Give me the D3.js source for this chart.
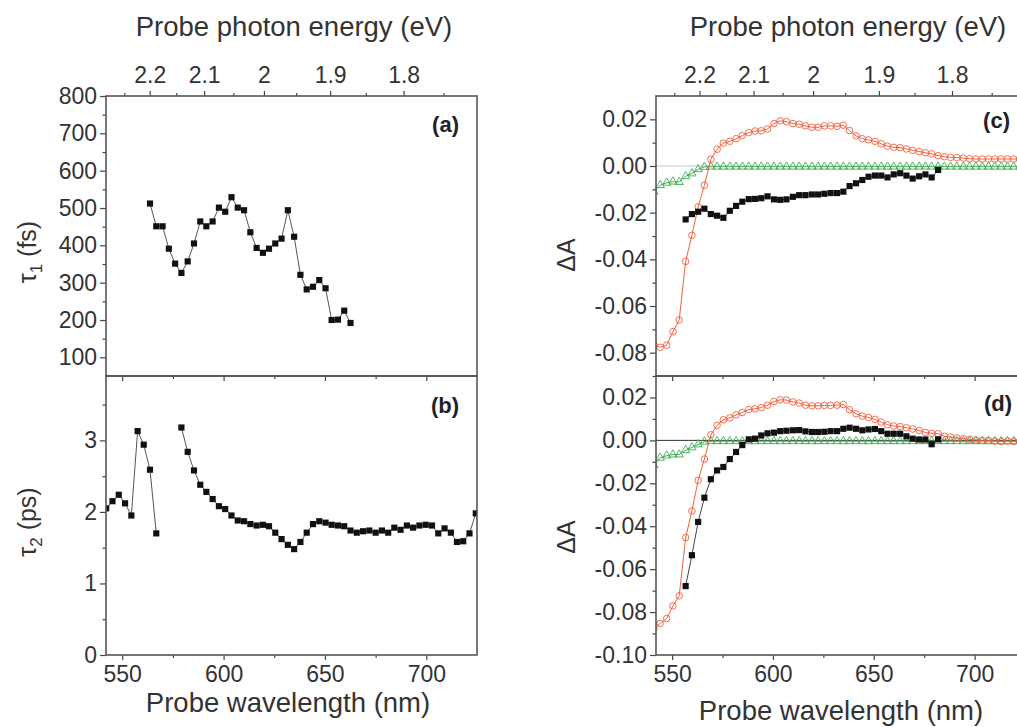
<!DOCTYPE html>
<html>
<head>
<meta charset="utf-8">
<script src="https://cdn.jsdelivr.net/npm/d3@7"></script>
<style>
body { margin: 0; background: #fff; }
svg text { font-family: "Liberation Sans", Arial, sans-serif; }
</style>
</head>
<body>
<div id="chart"></div>
<script>
// ---- data ----
// wavelength sampling of the left panels (nm)
var wlLeft = [542.1, 545.2, 548.3, 551.4, 554.5, 557.6, 560.6, 563.7, 566.8, 569.9,
  573.0, 576.1, 579.2, 582.3, 585.4, 588.5, 591.5, 594.6, 597.7, 600.8,
  603.9, 607.0, 610.1, 613.2, 616.3, 619.4, 622.4, 625.5, 628.6, 631.7,
  634.8, 637.9, 641.0, 644.1, 647.2, 650.3, 653.3, 656.4, 659.5, 662.6,
  665.7, 668.8, 671.9, 675.0, 678.1, 681.2, 684.2, 687.3, 690.4, 693.5,
  696.6, 699.7, 702.8, 705.9, 709.0, 712.1, 715.1, 718.2, 721.3, 724.4];

// tau1 (fs), panel (a)
var tau1 = [null, null, null, null, null, null, null, 512, 451, 451,
  391, 351, 326, 357, 405, 464, 451, 464, 501, 490,
  529, 501, 494, 435, 393, 380, 391, 405, 418, 494,
  423, 321, 282, 289, 307, 285, 200, 201, 225, 192,
  null, null, null, null, null, null, null, null, null, null,
  null, null, null, null, null, null, null, null, null, null];

// tau2 (ps), panel (b)
var tau2 = [2.05, 2.15, 2.24, 2.12, 1.95, 3.13, 2.94, 2.59, 1.70, null,
  null, null, 3.18, 2.84, 2.58, 2.38, 2.28, 2.18, 2.08, 2.04,
  1.95, 1.88, 1.87, 1.83, 1.81, 1.82, 1.80, 1.71, 1.62, 1.54,
  1.48, 1.58, 1.71, 1.83, 1.87, 1.85, 1.82, 1.81, 1.80, 1.74,
  1.71, 1.73, 1.74, 1.71, 1.74, 1.71, 1.78, 1.75, 1.81, 1.78,
  1.81, 1.82, 1.81, 1.70, 1.77, 1.71, 1.58, 1.59, 1.70, 1.98];

// wavelength sampling of the right panels (nm)
var wlRight = [541.0, 544.1, 547.3, 550.4, 553.5, 556.7, 559.8, 562.9, 566.0, 569.2,
  572.3, 575.4, 578.6, 581.7, 584.8, 588.0, 591.1, 594.2, 597.3, 600.5,
  603.6, 606.7, 609.9, 613.0, 616.1, 619.3, 622.4, 625.5, 628.6, 631.8,
  634.9, 638.0, 641.2, 644.3, 647.4, 650.6, 653.7, 656.8, 659.9, 663.1,
  666.2, 669.3, 672.5, 675.6, 678.7, 681.9, 685.0, 688.1, 691.2, 694.4,
  697.5, 700.6, 703.8, 706.9, 710.0, 713.2, 716.3, 719.4, 722.5];

// panel (c): delta A
var cSquares = [null, null, null, null, null, -0.0229, -0.0206, -0.0196, -0.0183, -0.0206,
  -0.0213, -0.0222, -0.0192, -0.0171, -0.0153, -0.0142, -0.0141, -0.0138, -0.0130, -0.0143,
  -0.0145, -0.0143, -0.0132, -0.0125, -0.0125, -0.0122, -0.0122, -0.0119, -0.0116, -0.0116,
  -0.0110, -0.0086, -0.0074, -0.0060, -0.0046, -0.0041, -0.0041, -0.0049, -0.0036, -0.0031,
  -0.0041, -0.0054, -0.0044, -0.0036, -0.0049, -0.0017, null, null, null, null,
  null, null, null, null, null, null, null, null, null];
var cCircles = [-0.0765, -0.0777, -0.0768, -0.0710, -0.0660, -0.0409, -0.0297, -0.0175, -0.0083, 0.0029,
  0.0072, 0.0098, 0.0106, 0.0117, 0.0130, 0.0143, 0.0150, 0.0151, 0.0159, 0.0182,
  0.0194, 0.0190, 0.0182, 0.0179, 0.0172, 0.0166, 0.0166, 0.0172, 0.0172, 0.0170,
  0.0175, 0.0152, 0.0129, 0.0117, 0.0112, 0.0106, 0.0095, 0.0085, 0.0080, 0.0079,
  0.0073, 0.0067, 0.0062, 0.0057, 0.0052, 0.0044, 0.0040, 0.0037, 0.0036, 0.0034,
  0.0031, 0.0030, 0.0030, 0.0030, 0.0030, 0.0030, 0.0030, 0.0030, 0.0030];
var cTriangles = [-0.0110, -0.0082, -0.0072, -0.0067, -0.0069, -0.0044, -0.0032, -0.0014, -0.0004, -0.0003,
  -0.0003, -0.0003, -0.0003, -0.0003, -0.0003, -0.0003, -0.0003, -0.0003, -0.0003, -0.0003,
  -0.0003, -0.0003, -0.0003, -0.0003, -0.0003, -0.0003, -0.0003, -0.0003, -0.0003, -0.0003,
  -0.0003, -0.0003, -0.0003, -0.0003, -0.0003, -0.0003, -0.0003, -0.0003, -0.0003, -0.0003,
  -0.0003, -0.0003, -0.0003, -0.0003, -0.0003, -0.0003, -0.0003, -0.0003, -0.0003, -0.0003,
  -0.0003, -0.0003, -0.0003, -0.0003, -0.0003, -0.0003, -0.0003, -0.0003, -0.0003];

// panel (d): delta A
var dSquares = [null, null, null, null, null, -0.0679, -0.0535, -0.0380, -0.0267, -0.0181,
  -0.0140, -0.0124, -0.0087, -0.0054, -0.0022, 0.0005, 0.0008, 0.0023, 0.0033, 0.0036,
  0.0043, 0.0045, 0.0047, 0.0048, 0.0042, 0.0039, 0.0039, 0.0040, 0.0043, 0.0043,
  0.0054, 0.0059, 0.0054, 0.0047, 0.0051, 0.0053, 0.0043, 0.0031, 0.0031, 0.0031,
  0.0019, 0.0008, 0.0004, 0.0004, -0.0018, 0.0005, null, null, null, null,
  null, null, null, null, null, null, null, null, null];
var dCircles = [-0.0876, -0.0853, -0.0830, -0.0771, -0.0724, -0.0453, -0.0329, -0.0186, -0.0087, 0.0026,
  0.0070, 0.0096, 0.0105, 0.0119, 0.0130, 0.0144, 0.0147, 0.0153, 0.0164, 0.0181,
  0.0189, 0.0188, 0.0179, 0.0174, 0.0164, 0.0161, 0.0161, 0.0163, 0.0163, 0.0164,
  0.0167, 0.0143, 0.0124, 0.0113, 0.0107, 0.0098, 0.0085, 0.0073, 0.0067, 0.0064,
  0.0059, 0.0053, 0.0046, 0.0037, 0.0033, 0.0031, 0.0019, 0.0016, 0.0011, 0.0008,
  0.0005, 0.0002, 0.0000, 0.0000, -0.0003, -0.0005, -0.0003, -0.0005, -0.0005];
var dTriangles = [-0.0116, -0.0081, -0.0071, -0.0066, -0.0066, -0.0046, -0.0033, -0.0019, -0.0006, -0.0004,
  -0.0004, -0.0004, -0.0004, -0.0004, -0.0004, -0.0004, -0.0004, -0.0004, -0.0004, -0.0004,
  -0.0004, -0.0004, -0.0004, -0.0004, -0.0004, -0.0004, -0.0004, -0.0004, -0.0004, -0.0004,
  -0.0004, -0.0004, -0.0004, -0.0004, -0.0004, -0.0004, -0.0004, -0.0004, -0.0004, -0.0004,
  -0.0004, -0.0004, -0.0004, -0.0004, -0.0004, -0.0004, -0.0004, -0.0004, -0.0004, -0.0004,
  -0.0004, -0.0004, -0.0004, -0.0004, -0.0004, -0.0004, -0.0004, -0.0004, -0.0004];

// ticks
var energyTicks = [2.2, 2.1, 2.0, 1.9, 1.8];
var energyLabels = ["2.2", "2.1", "2", "1.9", "1.8"];
var energyMinor = [2.25, 2.15, 2.05, 1.95, 1.85, 1.75];
var wlTicks = [550, 600, 650, 700];
var wlMinor = [575, 625, 675];
var tau1Ticks = [100, 200, 300, 400, 500, 600, 700, 800];
var tau1Minor = [150, 250, 350, 450, 550, 650, 750];
var tau2Ticks = [0, 1, 2, 3];
var tau2Minor = [0.5, 1.5, 2.5, 3.5];
var cTicks = [-0.08, -0.06, -0.04, -0.02, 0.00, 0.02];
var dTicks = [-0.10, -0.08, -0.06, -0.04, -0.02, 0.00, 0.02];
var dAMinor = [-0.09, -0.07, -0.05, -0.03, -0.01, 0.01];

var hc = 1239.84; // eV nm

var W = 1017, H = 727;
var orange = "#f0603e", green = "#3fae57", ink = "#333";

var svg = d3.select("#chart").append("svg")
    .attr("width", W)
    .attr("height", H);

var xL = d3.scaleLinear().domain([542, 725]).range([106, 477]);
var xR = d3.scaleLinear().domain([542, 725]).range([656, 1025]);

var fmt2 = function(d) { return d.toFixed(2); };

var panels = [
  { id: "a", x: xL, y: d3.scaleLinear().domain([50, 800]).range([376, 96]),
    yTicks: tau1Ticks, yMinor: tau1Minor, yFmt: d3.format("d"), top: true,
    tag: [459, 132],
    series: [{ wl: wlLeft, v: tau1, kind: "square", line: "#555" }] },
  { id: "b", x: xL, y: d3.scaleLinear().domain([0, 3.9]).range([655, 376]),
    yTicks: tau2Ticks, yMinor: tau2Minor, yFmt: d3.format("d"), top: false,
    tag: [459, 413],
    series: [{ wl: wlLeft, v: tau2, kind: "square", line: "#555" }] },
  { id: "c", x: xR, y: d3.scaleLinear().domain([-0.09, 0.03]).range([376, 96]),
    yTicks: cTicks, yMinor: dAMinor, yFmt: fmt2, top: true, zero: "#c8c8c8",
    tag: [1010, 128],
    series: [
      { wl: wlRight, v: cTriangles, kind: "triangle", line: green },
      { wl: wlRight, v: cCircles, kind: "circle", line: orange },
      { wl: wlRight, v: cSquares, kind: "square", line: "#444" }] },
  { id: "d", x: xR, y: d3.scaleLinear().domain([-0.10, 0.03]).range([655, 376]),
    yTicks: dTicks, yMinor: dAMinor, yFmt: fmt2, top: false, zero: "#333",
    tag: [1012, 411],
    series: [
      { wl: wlRight, v: dTriangles, kind: "triangle", line: green },
      { wl: wlRight, v: dCircles, kind: "circle", line: orange },
      { wl: wlRight, v: dSquares, kind: "square", line: "#444" }] }
];

function styleAxis(g, size) {
  g.select(".domain").remove();
  g.attr("font-family", "'Liberation Sans', Arial, sans-serif")
    .attr("font-size", size)
    .attr("color", ink);
  g.selectAll("line").attr("stroke", "#444").attr("stroke-width", 1.2);
}

panels.forEach(function(p) {
  var x = p.x, y = p.y;
  var x0 = x.range()[0], x1 = x.range()[1];
  var yb = y.range()[0], yt = y.range()[1];
  var g = svg.append("g").attr("class", "panel-" + p.id);

  g.append("clipPath").attr("id", "clip-" + p.id)
    .append("rect").attr("x", x0).attr("y", yt).attr("width", x1 - x0).attr("height", yb - yt);

  var plot = g.append("g").attr("clip-path", "url(#clip-" + p.id + ")");

  if (p.zero) {
    plot.append("line")
      .attr("x1", x0).attr("x2", x1)
      .attr("y1", y(0)).attr("y2", y(0))
      .attr("stroke", p.zero).attr("stroke-width", 1);
  }

  p.series.forEach(function(s) {
    var pts = s.wl.map(function(w, i) { return { w: w, v: s.v[i] }; });
    var line = d3.line()
      .defined(function(d) { return d.v != null; })
      .x(function(d) { return x(d.w); })
      .y(function(d) { return y(d.v); });
    plot.append("path")
      .datum(pts)
      .attr("d", line)
      .attr("fill", "none")
      .attr("stroke", s.line)
      .attr("stroke-width", 1);

    var shown = pts.filter(function(d) { return d.v != null; });
    var sym = s.kind == "square" ? d3.symbolSquare : (s.kind == "circle" ? d3.symbolCircle : d3.symbolTriangle);
    var size = s.kind == "square" ? 38 : (s.kind == "circle" ? 34 : 30);
    plot.selectAll("path.m-" + s.kind)
      .data(shown)
      .enter().append("path")
      .attr("class", "m-" + s.kind)
      .attr("transform", function(d) { return "translate(" + x(d.w) + "," + y(d.v) + ")"; })
      .attr("d", d3.symbol().type(sym).size(size))
      .attr("fill", s.kind == "square" ? "#111" : "none")
      .attr("stroke", s.kind == "square" ? "none" : s.line)
      .attr("stroke-width", 0.9);
  });

  // y axis, major + minor
  g.append("g").attr("transform", "translate(" + x0 + ",0)")
    .call(d3.axisLeft(y).tickValues(p.yTicks).tickFormat(p.yFmt).tickSize(6).tickPadding(3).tickSizeOuter(0))
    .call(styleAxis, 23);
  g.append("g").attr("transform", "translate(" + x0 + ",0)")
    .call(d3.axisLeft(y).tickValues(p.yMinor).tickFormat("").tickSize(3.5).tickSizeOuter(0))
    .call(styleAxis, 23);

  // bottom wavelength axis
  g.append("g").attr("transform", "translate(0," + yb + ")")
    .call(d3.axisBottom(x).tickValues(wlTicks).tickFormat(p.top ? "" : d3.format("d")).tickSize(5).tickPadding(6).tickSizeOuter(0))
    .call(styleAxis, 23);
  g.append("g").attr("transform", "translate(0," + yb + ")")
    .call(d3.axisBottom(x).tickValues(wlMinor).tickFormat("").tickSize(3).tickSizeOuter(0))
    .call(styleAxis, 23);

  // top photon energy axis
  if (p.top) {
    g.append("g").attr("transform", "translate(0," + yt + ")")
      .call(d3.axisTop(x).tickValues(energyTicks.map(function(e) { return hc / e; }))
        .tickFormat(function(d, i) { return energyLabels[i]; })
        .tickSize(5).tickPadding(8).tickSizeOuter(0))
      .call(styleAxis, 23);
    g.append("g").attr("transform", "translate(0," + yt + ")")
      .call(d3.axisTop(x).tickValues(energyMinor.map(function(e) { return hc / e; }))
        .tickFormat("").tickSize(3).tickSizeOuter(0))
      .call(styleAxis, 23);
  }

  // frame
  g.append("rect")
    .attr("x", x0).attr("y", yt)
    .attr("width", x1 - x0).attr("height", yb - yt)
    .attr("fill", "none")
    .attr("stroke", "#555")
    .attr("stroke-width", 1.6);

  g.append("text")
    .attr("x", p.tag[0]).attr("y", p.tag[1])
    .attr("text-anchor", "end")
    .attr("font-size", 22)
    .attr("font-weight", "bold")
    .attr("fill", "#222")
    .text("(" + p.id + ")");
});

// axis titles
function title(txt, x, y) {
  svg.append("text")
    .attr("x", x).attr("y", y)
    .attr("text-anchor", "middle")
    .attr("font-size", 27.5)
    .attr("fill", ink)
    .text(txt);
}
title("Probe photon energy (eV)", 294, 36);
title("Probe photon energy (eV)", 848, 36);
title("Probe wavelength (nm)", 288, 712);
title("Probe wavelength (nm)", 841, 720);

function yTitle(x, y, main, sub, unit) {
  var t = svg.append("text")
    .attr("transform", "translate(" + x + "," + y + ") rotate(-90)")
    .attr("text-anchor", "middle")
    .attr("font-size", 25)
    .attr("fill", ink);
  t.append("tspan").text(main);
  if (sub) t.append("tspan").attr("font-size", 17).attr("dy", 6).text(sub);
  if (unit) t.append("tspan").attr("dy", sub ? -6 : 0).text(unit);
}
yTitle(36, 252, "\u03c4", "1", " (fs)");
yTitle(36, 522, "\u03c4", "2", " (ps)");
yTitle(575, 255, "\u0394A", null, null);
yTitle(575, 537, "\u0394A", null, null);
</script>
</body>
</html>
